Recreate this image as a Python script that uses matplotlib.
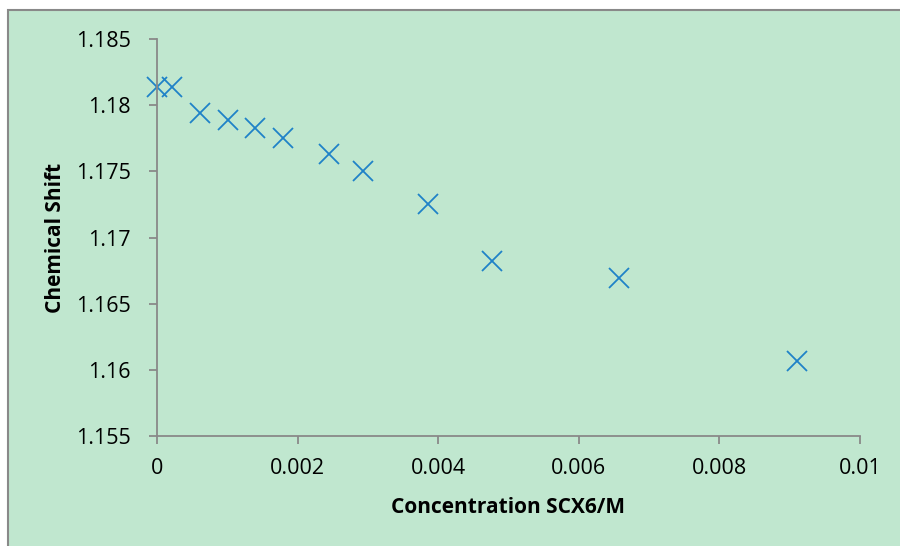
import matplotlib
matplotlib.use('Agg')
import matplotlib.pyplot as plt
from matplotlib.patches import Rectangle

# Data
concentration = [0.0, 0.000213, 0.000612, 0.00101, 0.001394, 0.001792,
                 0.002447, 0.00293, 0.003855, 0.004765, 0.006572, 0.009104]
chemical_shift = [1.18138, 1.18138, 1.17942, 1.17889, 1.17829, 1.17754,
                  1.17633, 1.17505, 1.17256, 1.16819, 1.16691, 1.16065]

x_ticks = [0, 0.002, 0.004, 0.006, 0.008, 0.01]
x_tick_labels = ['0', '0.002', '0.004', '0.006', '0.008', '0.01']
y_ticks = [1.155, 1.16, 1.165, 1.17, 1.175, 1.18, 1.185]
y_tick_labels = ['1.155', '1.16', '1.165', '1.17', '1.175', '1.18', '1.185']

bg = '#C0E7CF'
grey = '#898989'

plt.rcParams['font.family'] = ['Open Sans', 'DejaVu Sans']

fig = plt.figure(figsize=(9, 5.46), dpi=100)
fig.patch.set_facecolor('white')

# chart area with grey border (cut off at right and bottom like the reference)
border = Rectangle((8 / 900, -0.01), 1.0, 1 - 10 / 546 + 0.01,
                   transform=fig.transFigure, facecolor=bg,
                   edgecolor=grey, linewidth=1.5, zorder=-10)
fig.add_artist(border)

ax = fig.add_axes([157 / 900, 110 / 546, 703 / 900, 397 / 546])
ax.set_facecolor('none')
ax.set_zorder(5)

ax.plot(concentration, chemical_shift, linestyle='none', marker='x',
        markersize=14, markeredgewidth=1.3, color='#1F82C8', clip_on=False)

ax.set_xlim(0, 0.01)
ax.set_ylim(1.155, 1.185)
ax.set_xticks(x_ticks)
ax.set_xticklabels(x_tick_labels)
ax.set_yticks(y_ticks)
ax.set_yticklabels(y_tick_labels)

for side in ['top', 'right']:
    ax.spines[side].set_visible(False)
for side in ['left', 'bottom']:
    ax.spines[side].set_color(grey)
    ax.spines[side].set_linewidth(1.3)

ax.tick_params(axis='both', direction='out', length=6, width=1.3,
               color=grey, labelsize=15.5, labelcolor='black')
ax.tick_params(axis='x', pad=10)
ax.tick_params(axis='y', pad=13)

ax.set_xlabel('Concentration SCX6/M', fontsize=15, fontweight='bold',
              va='center')
ax.xaxis.set_label_coords(0.5, -0.179)
ax.set_ylabel('Chemical Shift', fontsize=15, fontweight='bold',
              va='center')
ax.yaxis.set_label_coords(-0.1437, 0.5)

fig.savefig('out.png', dpi=100, facecolor=fig.get_facecolor())
